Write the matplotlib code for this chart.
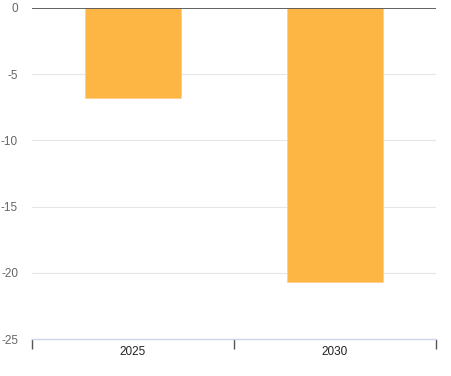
import matplotlib
matplotlib.use("Agg")
import matplotlib.pyplot as plt
import numpy as np

plt.rcParams['font.family'] = ['Liberation Sans', 'DejaVu Sans']

categories = ["2025", "2030"]
values = [-6.8, -20.7]
yticks = [0, -5, -10, -15, -20, -25]

W, H = 451, 376
fig = plt.figure(figsize=(W / 100, H / 100), dpi=100)
ax = fig.add_axes([32 / W, 1 - 339 / H, (436 - 32) / W, (339 - 8) / H])

x = np.arange(len(categories)) + 0.5
ax.bar(x, values, width=0.475, color="#fdb643", edgecolor="#fdd08a", linewidth=0.6, zorder=3)

ax.set_xlim(0, len(categories))
ax.set_ylim(-25, 0)

for v in yticks[1:-1]:
    ax.axhline(v, color="#e6e6e6", linewidth=0.8, zorder=1)
ax.axhline(0, color="#555555", linewidth=1.3, zorder=4)

for s in ["top", "right", "left"]:
    ax.spines[s].set_visible(False)
ax.spines["bottom"].set_color("#ccd6eb")
ax.spines["bottom"].set_linewidth(1.0)

ax.set_yticks(yticks)
ax.set_yticklabels([str(v) for v in yticks], color="#666666", fontsize=8.5)
ax.tick_params(axis="y", length=0, pad=10)

ax.set_xticks(np.arange(len(categories) + 1))
ax.set_xticklabels([])
ax.tick_params(axis="x", which="major", length=7, width=1, color="#555555", direction="out")
ax.set_xticks(x, minor=True)
ax.set_xticklabels(categories, minor=True, fontsize=8.5, color="#222222")
ax.tick_params(axis="x", which="minor", length=0, pad=5)

fig.savefig("out.png", dpi=100)
